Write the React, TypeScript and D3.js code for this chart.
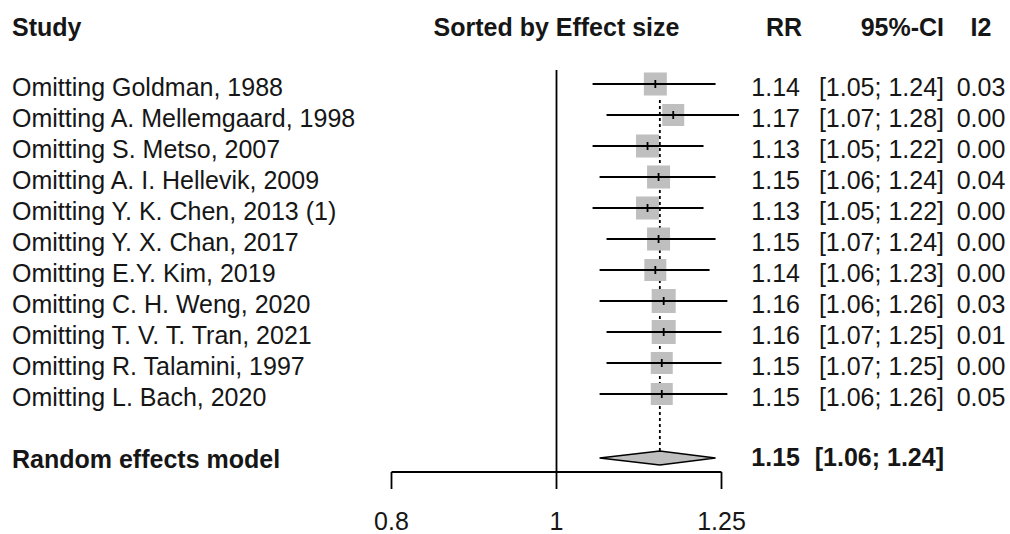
import React from "react";
import * as d3 from "d3";

const studies = [
  "Omitting Goldman, 1988",
  "Omitting A. Mellemgaard, 1998",
  "Omitting S. Metso, 2007",
  "Omitting A. I. Hellevik, 2009",
  "Omitting Y. K. Chen, 2013 (1)",
  "Omitting Y. X. Chan, 2017",
  "Omitting E.Y. Kim, 2019",
  "Omitting C. H. Weng, 2020",
  "Omitting T. V. T. Tran, 2021",
  "Omitting R. Talamini, 1997",
  "Omitting L. Bach, 2020",
];
const rr = [1.143, 1.171, 1.131, 1.148, 1.131, 1.148, 1.143, 1.156, 1.156, 1.153, 1.153];
const lower = [1.05, 1.07, 1.05, 1.06, 1.05, 1.07, 1.06, 1.06, 1.07, 1.07, 1.06];
const upper = [1.24, 1.28, 1.22, 1.24, 1.22, 1.24, 1.23, 1.26, 1.25, 1.25, 1.26];
const i2 = [0.03, 0.0, 0.0, 0.04, 0.0, 0.0, 0.0, 0.03, 0.01, 0.0, 0.05];
const weights = [9.1, 8.3, 9.1, 9.1, 9.1, 9.1, 8.3, 9.9, 9.9, 8.3, 8.3];
const summary = { label: "Random effects model", rr: 1.15, lower: 1.06, upper: 1.24 };
const axisTicks = [0.8, 1, 1.25];
const headers = { study: "Study", plot: "Sorted by Effect size", rr: "RR", ci: "95%-CI", i2: "I2" };

const FONT = "'Liberation Sans', Arial, sans-serif";
const FS = 25;
const TXT = "#161616";

export default function App() {
  const x = d3.scaleLog().domain([0.8, 1.25]).range([391.5, 721.5]);
  const y = d3.scaleLinear().domain([0, 12]).range([84, 456]);
  const box = d3.scaleSqrt().domain([0, 9.9]).range([0, 24]);
  const f2 = (v: number) => v.toFixed(2);

  const sy = y(12) + 2;
  const axisY = 472;
  const xRR = 800;
  const xCI = 944;
  const xI2 = 981;
  const headY = 36;
  const baseOff = 12;

  const diamond = d3.line()([
    [x(summary.lower), sy],
    [x(summary.rr), sy - 7],
    [x(summary.upper), sy],
    [x(summary.rr), sy + 7],
  ]) + "Z";

  return (
    <svg
      width={1010}
      height={534}
      style={{ position: "absolute", left: 0, top: 0, background: "#fff" }}
      fontFamily={FONT}
      fontSize={FS}
    >
      <rect x={0} y={0} width={1010} height={534} fill="#fff" />
      {/* headers */}
      <g fontWeight="bold" fill={TXT}>
        <text x={12} y={headY}>{headers.study}</text>
        <text x={x(1)} y={headY} textAnchor="middle">{headers.plot}</text>
        <text x={xRR + 2} y={headY} textAnchor="end">{headers.rr}</text>
        <text x={xCI} y={headY} textAnchor="end">{headers.ci}</text>
        <text x={xI2} y={headY} textAnchor="middle">{headers.i2}</text>
      </g>

      {/* null line */}
      <line x1={x(1)} x2={x(1)} y1={70} y2={axisY} stroke="#000" strokeWidth={1.8} />
      {/* summary dotted line */}
      <line
        x1={x(summary.rr)}
        x2={x(summary.rr)}
        y1={y(0) + 16}
        y2={sy - 7}
        stroke="#000"
        strokeWidth={1.8}
        strokeDasharray="3,3"
      />

      {/* studies */}
      {studies.map((s, i) => {
        const cy = y(i);
        const sz = box(weights[i]);
        return (
          <g key={s}>
            <text x={12} y={cy + baseOff} fill={TXT}>{s}</text>
            <rect
              x={x(rr[i]) - sz / 2}
              y={cy - sz / 2}
              width={sz}
              height={sz}
              fill="#bfbfbf"
            />
            <line x1={x(lower[i])} x2={x(upper[i])} y1={cy} y2={cy} stroke="#000" strokeWidth={1.8} />
            <line x1={x(rr[i])} x2={x(rr[i])} y1={cy - 4} y2={cy + 4} stroke="#000" strokeWidth={1.8} />
            <text x={xRR} y={cy + baseOff} textAnchor="end" fill={TXT}>{f2(rr[i])}</text>
            <text x={xCI} y={cy + baseOff} textAnchor="end" fill={TXT}>
              {`[${f2(lower[i])}; ${f2(upper[i])}]`}
            </text>
            <text x={xI2} y={cy + baseOff} textAnchor="middle" fill={TXT}>{f2(i2[i])}</text>
          </g>
        );
      })}

      {/* summary */}
      <path d={diamond} fill="#bfbfbf" stroke="#000" strokeWidth={1.5} />
      <g fontWeight="bold" fill={TXT}>
        <text x={12} y={sy + 10}>{summary.label}</text>
        <text x={xRR} y={sy + 8} textAnchor="end">{f2(summary.rr)}</text>
        <text x={xCI} y={sy + 8} textAnchor="end">
          {`[${f2(summary.lower)}; ${f2(summary.upper)}]`}
        </text>
      </g>

      {/* axis */}
      <line x1={x(0.8)} x2={x(1.25)} y1={axisY} y2={axisY} stroke="#000" strokeWidth={1.8} />
      {axisTicks.map((t) => (
        <g key={t}>
          <line x1={x(t)} x2={x(t)} y1={axisY} y2={axisY + 17} stroke="#000" strokeWidth={1.8} />
          <text x={x(t)} y={530} textAnchor="middle" fill={TXT}>{String(t)}</text>
        </g>
      ))}
    </svg>
  );
}
